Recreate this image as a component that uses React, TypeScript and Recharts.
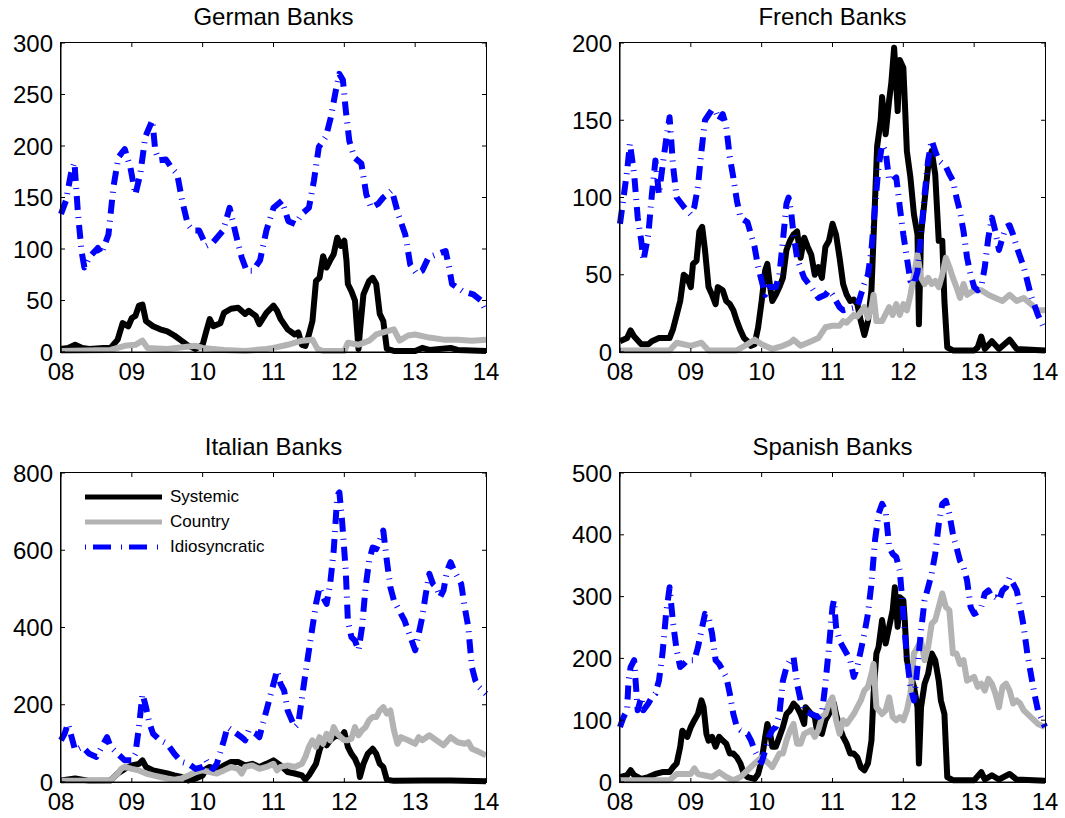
import { LineChart, Line, XAxis, YAxis, ReferenceLine } from "recharts";

type Pt = [number, number];

// shared x axis: years 2008-2014, labelled by two digits
const yearTicks = [8, 9, 10, 11, 12, 13, 14];
const yearLabels = ["08", "09", "10", "11", "12", "13", "14"];

const germanTicks = [0, 50, 100, 150, 200, 250, 300];
const frenchTicks = [0, 50, 100, 150, 200];
const italianTicks = [0, 200, 400, 600, 800];
const spanishTicks = [0, 100, 200, 300, 400, 500];

const seriesNames = ["Systemic", "Country", "Idiosyncratic"];

// German banks
const germanSystemic: Pt[] = [
  [8.0, 3], [8.1, 4], [8.2, 7], [8.3, 4], [8.4, 3], [8.6, 4], [8.7, 4], [8.8, 12], [8.87, 28], [8.95, 25],
  [9.0, 33], [9.05, 35], [9.1, 45], [9.15, 46], [9.2, 30], [9.3, 25], [9.4, 22], [9.5, 20], [9.6, 16], [9.7, 11],
  [9.8, 6], [9.9, 3], [10.0, 7], [10.05, 20], [10.1, 32], [10.15, 25], [10.25, 28], [10.3, 38], [10.4, 42], [10.5, 43],
  [10.6, 37], [10.65, 40], [10.75, 35], [10.8, 27], [10.9, 38], [11.0, 45], [11.05, 40], [11.1, 32], [11.2, 22],
  [11.3, 17], [11.35, 19], [11.4, 7], [11.45, 6], [11.5, 17], [11.55, 30], [11.6, 69], [11.65, 72], [11.7, 93],
  [11.75, 82], [11.8, 89], [11.85, 95], [11.9, 111], [11.95, 103], [12.0, 108], [12.03, 89], [12.05, 66], [12.1, 59],
  [12.15, 50], [12.2, 3], [12.22, 20], [12.27, 56], [12.35, 69], [12.4, 72], [12.45, 66], [12.5, 37], [12.55, 30],
  [12.6, 3], [12.7, 1], [13.0, 1], [13.1, 4], [13.2, 2], [13.5, 4], [13.6, 2], [14.0, 1],
];
const germanCountry: Pt[] = [
  [8.0, 1], [8.7, 2], [8.9, 6], [9.05, 7], [9.15, 11], [9.22, 4], [9.5, 3], [9.9, 6], [10.0, 4], [10.3, 2],
  [10.6, 1], [10.9, 3], [11.0, 4], [11.2, 7], [11.4, 11], [11.55, 12], [11.62, 3], [11.7, 1], [12.0, 1], [12.05, 9],
  [12.2, 7], [12.35, 11], [12.45, 17], [12.6, 20], [12.7, 22], [12.78, 11], [12.9, 16], [13.0, 17], [13.2, 14],
  [13.4, 12], [13.6, 12], [13.8, 11], [14.0, 12],
];
const germanIdio: Pt[] = [
  [8.0, 134], [8.07, 147], [8.14, 173], [8.19, 184], [8.24, 134], [8.29, 98], [8.33, 82], [8.4, 92], [8.52, 101],
  [8.57, 95], [8.67, 114], [8.74, 160], [8.81, 189], [8.9, 197], [8.98, 179], [9.05, 153], [9.12, 173], [9.19, 209],
  [9.29, 225], [9.33, 196], [9.38, 186], [9.48, 187], [9.57, 178], [9.64, 173], [9.71, 147], [9.79, 124], [9.86, 118],
  [9.95, 118], [10.05, 103], [10.14, 106], [10.29, 118], [10.38, 140], [10.48, 111], [10.55, 92], [10.62, 79],
  [10.71, 79], [10.81, 89], [10.9, 118], [11.0, 140], [11.12, 147], [11.21, 127], [11.31, 124], [11.4, 134],
  [11.5, 140], [11.57, 166], [11.64, 199], [11.74, 209], [11.81, 228], [11.88, 254], [11.93, 270], [11.98, 264],
  [12.02, 235], [12.07, 205], [12.14, 189], [12.24, 183], [12.31, 153], [12.38, 140], [12.48, 144], [12.55, 150],
  [12.67, 157], [12.76, 134], [12.86, 114], [12.93, 85], [13.02, 76], [13.1, 79], [13.19, 92], [13.31, 95],
  [13.43, 98], [13.48, 82], [13.52, 66], [13.67, 59], [13.82, 56], [13.93, 50], [14.0, 40],
];

// French banks
const frenchSystemic: Pt[] = [
  [8.0, 7], [8.1, 9], [8.15, 14], [8.2, 10], [8.3, 5], [8.4, 5], [8.45, 7], [8.55, 9], [8.7, 9], [8.75, 15],
  [8.8, 24], [8.85, 33], [8.9, 50], [8.95, 48], [9.0, 42], [9.03, 57], [9.08, 59], [9.12, 78], [9.16, 81], [9.2, 66],
  [9.25, 42], [9.3, 37], [9.35, 31], [9.38, 42], [9.45, 40], [9.5, 33], [9.55, 31], [9.6, 27], [9.65, 20], [9.7, 14],
  [9.75, 9], [9.8, 7], [9.85, 4], [9.9, 5], [9.95, 16], [10.0, 33], [10.05, 53], [10.08, 57], [10.12, 42], [10.15, 33],
  [10.2, 37], [10.25, 42], [10.3, 48], [10.35, 66], [10.4, 72], [10.45, 76], [10.5, 78], [10.55, 61], [10.6, 74],
  [10.65, 68], [10.7, 63], [10.75, 50], [10.8, 55], [10.85, 48], [10.9, 68], [10.95, 72], [11.0, 83], [11.05, 76],
  [11.1, 61], [11.15, 44], [11.2, 37], [11.25, 33], [11.3, 34], [11.35, 31], [11.4, 20], [11.45, 11], [11.5, 20],
  [11.55, 40], [11.6, 98], [11.63, 133], [11.68, 150], [11.7, 165], [11.75, 141], [11.8, 163], [11.83, 174],
  [11.87, 197], [11.9, 174], [11.92, 156], [11.95, 189], [12.0, 184], [12.02, 163], [12.05, 130], [12.1, 113],
  [12.15, 89], [12.2, 76], [12.22, 18], [12.25, 76], [12.3, 98], [12.35, 120], [12.4, 130], [12.45, 115], [12.5, 72],
  [12.55, 72], [12.58, 33], [12.62, 3], [12.7, 1], [13.0, 1], [13.05, 3], [13.1, 10], [13.15, 2], [13.25, 7],
  [13.35, 2], [13.5, 8], [13.6, 2], [14.0, 1],
];
const frenchCountry: Pt[] = [
  [8.0, 1], [8.7, 1], [8.8, 6], [9.0, 4], [9.15, 6], [9.25, 1], [9.65, 1], [9.8, 5], [9.9, 8], [10.0, 5],
  [10.15, 2], [10.3, 4], [10.4, 6], [10.45, 8], [10.55, 4], [10.7, 7], [10.8, 9], [10.9, 16], [11.0, 17], [11.1, 17],
  [11.15, 20], [11.2, 19], [11.3, 24], [11.35, 23], [11.45, 29], [11.5, 22], [11.55, 29], [11.58, 37], [11.62, 20],
  [11.7, 20], [11.8, 29], [11.85, 24], [11.9, 31], [11.95, 24], [12.0, 31], [12.05, 27], [12.1, 37], [12.15, 50],
  [12.2, 63], [12.25, 48], [12.3, 44], [12.35, 48], [12.4, 44], [12.45, 46], [12.5, 42], [12.55, 50], [12.6, 61],
  [12.65, 55], [12.7, 48], [12.75, 42], [12.8, 35], [12.85, 44], [12.9, 37], [13.0, 40], [13.1, 40], [13.2, 37],
  [13.3, 35], [13.4, 33], [13.5, 37], [13.6, 33], [13.7, 35], [13.8, 31], [13.9, 27], [14.0, 27],
];
const frenchIdio: Pt[] = [
  [8.0, 83], [8.05, 100], [8.1, 117], [8.14, 135], [8.2, 115], [8.25, 87], [8.3, 72], [8.33, 59], [8.4, 76],
  [8.45, 102], [8.5, 124], [8.55, 102], [8.6, 120], [8.65, 137], [8.7, 152], [8.75, 120], [8.8, 100], [8.9, 94],
  [9.0, 89], [9.05, 94], [9.1, 107], [9.15, 130], [9.2, 150], [9.3, 157], [9.35, 156], [9.4, 150], [9.45, 154],
  [9.5, 146], [9.55, 126], [9.6, 113], [9.65, 98], [9.7, 87], [9.8, 84], [9.9, 68], [9.95, 55], [10.0, 46],
  [10.05, 37], [10.1, 42], [10.2, 42], [10.25, 50], [10.3, 72], [10.35, 96], [10.38, 100], [10.42, 89], [10.45, 76],
  [10.5, 61], [10.55, 54], [10.6, 48], [10.7, 42], [10.8, 35], [10.9, 37], [10.95, 40], [11.0, 37], [11.1, 29],
  [11.15, 27], [11.25, 28], [11.35, 29], [11.4, 37], [11.45, 44], [11.5, 50], [11.55, 66], [11.6, 94], [11.65, 120],
  [11.7, 134], [11.75, 130], [11.8, 111], [11.85, 111], [11.9, 113], [11.95, 94], [12.0, 76], [12.05, 61], [12.1, 46],
  [12.15, 44], [12.2, 52], [12.25, 76], [12.3, 102], [12.35, 124], [12.4, 137], [12.45, 130], [12.5, 124],
  [12.55, 122], [12.6, 120], [12.65, 115], [12.7, 111], [12.75, 100], [12.8, 91], [12.85, 78], [12.9, 61],
  [12.95, 50], [13.0, 42], [13.05, 40], [13.1, 42], [13.15, 55], [13.2, 74], [13.25, 87], [13.3, 78], [13.35, 66],
  [13.4, 74], [13.45, 81], [13.5, 82], [13.55, 76], [13.6, 68], [13.7, 55], [13.8, 37], [13.9, 24], [14.0, 14],
];

// Italian banks
const italianSystemic: Pt[] = [
  [8.0, 4], [8.2, 9], [8.4, 3], [8.7, 4], [8.8, 22], [8.9, 34], [9.0, 43], [9.1, 47], [9.15, 56], [9.2, 39],
  [9.3, 30], [9.4, 26], [9.5, 22], [9.6, 17], [9.7, 13], [9.8, 4], [9.9, 9], [10.0, 17], [10.05, 34], [10.1, 39],
  [10.2, 30], [10.3, 43], [10.4, 52], [10.5, 52], [10.6, 43], [10.7, 47], [10.8, 39], [10.9, 47], [11.0, 56],
  [11.1, 43], [11.2, 26], [11.3, 22], [11.4, 17], [11.45, 6], [11.5, 17], [11.6, 47], [11.65, 82], [11.7, 108],
  [11.75, 95], [11.8, 108], [11.85, 116], [11.9, 121], [11.95, 116], [12.0, 129], [12.05, 91], [12.1, 73],
  [12.15, 60], [12.2, 39], [12.22, 13], [12.27, 47], [12.33, 73], [12.4, 86], [12.45, 73], [12.5, 47], [12.55, 39],
  [12.6, 6], [12.7, 3], [13.1, 4], [13.5, 4], [14.0, 2],
];
const italianCountry: Pt[] = [
  [8.0, 3], [8.7, 4], [8.8, 22], [8.85, 34], [8.9, 39], [9.0, 34], [9.1, 30], [9.2, 22], [9.3, 17], [9.4, 13],
  [9.5, 9], [9.6, 6], [9.7, 9], [9.8, 17], [9.9, 26], [10.0, 30], [10.1, 26], [10.2, 22], [10.3, 30], [10.4, 39],
  [10.5, 34], [10.55, 22], [10.6, 39], [10.7, 43], [10.8, 34], [10.9, 39], [11.0, 47], [11.05, 30], [11.1, 39],
  [11.2, 43], [11.3, 39], [11.4, 47], [11.45, 65], [11.5, 91], [11.55, 108], [11.6, 91], [11.65, 116], [11.7, 99],
  [11.75, 125], [11.8, 108], [11.85, 142], [11.9, 125], [11.95, 116], [12.0, 108], [12.05, 108], [12.1, 112],
  [12.15, 142], [12.2, 121], [12.25, 134], [12.3, 142], [12.35, 160], [12.4, 168], [12.45, 168], [12.5, 185],
  [12.55, 194], [12.6, 177], [12.65, 185], [12.7, 134], [12.75, 99], [12.8, 116], [12.9, 108], [13.0, 99],
  [13.05, 116], [13.1, 108], [13.2, 121], [13.3, 108], [13.4, 95], [13.5, 116], [13.6, 103], [13.7, 99],
  [13.75, 103], [13.8, 86], [13.9, 78], [14.0, 69],
];
const italianIdio: Pt[] = [
  [8.0, 108], [8.05, 125], [8.1, 151], [8.15, 116], [8.2, 82], [8.3, 91], [8.4, 73], [8.5, 65], [8.55, 82],
  [8.65, 116], [8.7, 91], [8.8, 73], [8.9, 56], [9.0, 56], [9.05, 73], [9.1, 142], [9.15, 228], [9.2, 194],
  [9.25, 151], [9.3, 125], [9.4, 108], [9.5, 99], [9.6, 73], [9.7, 52], [9.8, 47], [9.9, 34], [10.0, 39],
  [10.05, 56], [10.1, 39], [10.15, 34], [10.2, 47], [10.3, 108], [10.35, 142], [10.45, 129], [10.55, 116],
  [10.6, 108], [10.65, 134], [10.75, 125], [10.8, 116], [10.9, 185], [11.0, 254], [11.05, 289], [11.1, 254],
  [11.15, 237], [11.2, 185], [11.3, 142], [11.35, 151], [11.45, 280], [11.5, 341], [11.55, 401], [11.6, 461],
  [11.65, 504], [11.7, 478], [11.75, 461], [11.8, 513], [11.85, 599], [11.9, 741], [11.93, 750], [11.97, 672],
  [12.02, 547], [12.05, 418], [12.1, 375], [12.15, 366], [12.2, 341], [12.25, 401], [12.3, 504], [12.35, 573],
  [12.4, 607], [12.45, 603], [12.5, 625], [12.55, 651], [12.6, 573], [12.65, 504], [12.7, 470], [12.8, 435],
  [12.85, 418], [12.9, 392], [13.0, 341], [13.05, 384], [13.1, 427], [13.15, 487], [13.2, 539], [13.25, 513],
  [13.3, 504], [13.35, 478], [13.4, 496], [13.45, 547], [13.5, 569], [13.55, 547], [13.6, 530], [13.65, 513],
  [13.7, 452], [13.75, 401], [13.8, 298], [13.85, 263], [13.9, 246], [14.0, 228],
];

// Spanish banks
const spanishSystemic: Pt[] = [
  [8.0, 8], [8.1, 11], [8.15, 19], [8.2, 11], [8.3, 5], [8.4, 8], [8.5, 13], [8.6, 16], [8.7, 16], [8.75, 24],
  [8.8, 30], [8.85, 57], [8.88, 83], [8.95, 73], [9.0, 89], [9.05, 100], [9.1, 110], [9.15, 132], [9.18, 121],
  [9.22, 78], [9.25, 67], [9.3, 73], [9.35, 57], [9.4, 73], [9.45, 67], [9.5, 62], [9.55, 46], [9.6, 46], [9.65, 40],
  [9.7, 30], [9.75, 13], [9.8, 8], [9.9, 5], [9.95, 13], [10.0, 35], [10.05, 73], [10.08, 94], [10.12, 78],
  [10.15, 57], [10.2, 57], [10.25, 73], [10.3, 89], [10.35, 110], [10.4, 116], [10.45, 127], [10.5, 121],
  [10.55, 110], [10.6, 94], [10.62, 121], [10.7, 110], [10.75, 105], [10.78, 83], [10.85, 78], [10.9, 100],
  [10.95, 110], [11.0, 132], [11.02, 127], [11.05, 110], [11.1, 89], [11.15, 73], [11.2, 62], [11.25, 46],
  [11.3, 46], [11.35, 40], [11.4, 24], [11.45, 19], [11.5, 30], [11.55, 67], [11.58, 143], [11.62, 208],
  [11.65, 218], [11.7, 262], [11.75, 224], [11.8, 251], [11.85, 278], [11.88, 315], [11.92, 251], [11.95, 299],
  [12.0, 294], [12.02, 262], [12.05, 197], [12.1, 175], [12.15, 154], [12.2, 121], [12.22, 30], [12.25, 121],
  [12.3, 159], [12.35, 175], [12.4, 208], [12.45, 197], [12.5, 164], [12.53, 132], [12.58, 110], [12.62, 8],
  [12.7, 3], [13.0, 3], [13.1, 16], [13.15, 4], [13.25, 11], [13.35, 4], [13.5, 13], [13.6, 4], [14.0, 2],
];
const spanishCountry: Pt[] = [
  [8.0, 3], [8.7, 3], [8.8, 13], [9.0, 13], [9.05, 22], [9.1, 13], [9.3, 8], [9.4, 16], [9.5, 8], [9.6, 3],
  [9.7, 8], [9.8, 19], [9.9, 30], [10.0, 40], [10.1, 30], [10.15, 24], [10.25, 46], [10.3, 46], [10.35, 67],
  [10.4, 83], [10.45, 94], [10.5, 62], [10.55, 62], [10.6, 78], [10.7, 84], [10.75, 73], [10.8, 84], [10.85, 105],
  [10.9, 110], [10.95, 127], [11.0, 137], [11.05, 100], [11.1, 78], [11.15, 100], [11.2, 94], [11.3, 110],
  [11.35, 121], [11.4, 132], [11.45, 148], [11.5, 154], [11.55, 175], [11.58, 191], [11.62, 121], [11.7, 110],
  [11.75, 116], [11.8, 137], [11.85, 105], [11.9, 100], [11.95, 105], [12.0, 100], [12.05, 116], [12.1, 143],
  [12.15, 208], [12.2, 218], [12.25, 229], [12.3, 197], [12.35, 218], [12.4, 256], [12.45, 262], [12.5, 283],
  [12.55, 305], [12.6, 283], [12.65, 278], [12.7, 208], [12.75, 208], [12.8, 191], [12.85, 197], [12.9, 164],
  [13.0, 170], [13.05, 154], [13.1, 159], [13.15, 148], [13.2, 167], [13.25, 159], [13.3, 143], [13.35, 121],
  [13.4, 154], [13.45, 159], [13.5, 148], [13.55, 127], [13.6, 132], [13.65, 127], [13.7, 116], [13.8, 105],
  [13.9, 94], [14.0, 89],
];
const spanishIdio: Pt[] = [
  [8.0, 89], [8.05, 105], [8.1, 116], [8.12, 164], [8.15, 186], [8.2, 197], [8.22, 164], [8.25, 116], [8.3, 137],
  [8.33, 116], [8.4, 127], [8.45, 137], [8.5, 143], [8.55, 164], [8.6, 208], [8.65, 272], [8.7, 315], [8.75, 256],
  [8.8, 213], [8.85, 186], [8.9, 191], [8.95, 197], [9.0, 197], [9.05, 197], [9.1, 218], [9.15, 245], [9.2, 272],
  [9.25, 267], [9.3, 240], [9.35, 197], [9.4, 191], [9.5, 170], [9.55, 143], [9.6, 110], [9.65, 89], [9.7, 84],
  [9.8, 78], [9.85, 67], [9.9, 51], [9.95, 40], [10.0, 32], [10.05, 51], [10.1, 73], [10.15, 84], [10.2, 89],
  [10.25, 110], [10.3, 164], [10.35, 186], [10.4, 197], [10.45, 202], [10.5, 159], [10.55, 132], [10.6, 116],
  [10.7, 110], [10.8, 105], [10.85, 110], [10.9, 159], [10.95, 218], [11.0, 283], [11.02, 294], [11.05, 251],
  [11.1, 229], [11.15, 218], [11.2, 208], [11.25, 197], [11.3, 170], [11.35, 186], [11.4, 213], [11.45, 240],
  [11.5, 272], [11.55, 321], [11.6, 391], [11.65, 434], [11.7, 450], [11.75, 439], [11.8, 380], [11.85, 369],
  [11.9, 364], [11.95, 342], [12.0, 272], [12.05, 202], [12.1, 154], [12.15, 132], [12.2, 186], [12.25, 245],
  [12.3, 294], [12.35, 315], [12.4, 337], [12.45, 369], [12.5, 417], [12.55, 450], [12.6, 455], [12.65, 434],
  [12.7, 401], [12.75, 380], [12.8, 358], [12.85, 348], [12.9, 326], [12.95, 283], [13.0, 272], [13.05, 275],
  [13.1, 283], [13.15, 305], [13.2, 310], [13.25, 299], [13.3, 299], [13.35, 294], [13.4, 310], [13.45, 315],
  [13.5, 331], [13.55, 321], [13.6, 310], [13.65, 283], [13.7, 251], [13.75, 208], [13.8, 175], [13.85, 143],
  [13.9, 116], [14.0, 89],
];

const FONT = '"Liberation Sans", Arial, Helvetica, sans-serif';
const SYS_COLOR = "#000000";
const CTY_COLOR = "#b3b3b3";
const IDIO_COLOR = "#0000ff";
const IDIO_DASH = "14 7 1 7";
const LINE_W = 6;

// chart box: plot area starts 61px right and 43px below the box corner, 425 x 309
const CHART_W = 530;
const CHART_H = 400;
const PLOT_L = 61;
const PLOT_T = 43;
const PLOT_W = 425;
const PLOT_H = 309;
const TICK_LEN = 4; // inward tick length in px
const X_MIN = 8;
const X_MAX = 14;

const toRows = (pts: Pt[]) => pts.map(([t, v]) => ({ t, v }));
const yearLabel = (v: number) => yearLabels[yearTicks.indexOf(v)] ?? "";

// inward tick marks along the top and right edges, as data-space segments
function mirrorTicks(yTicks: number[], yMax: number) {
  const dy = (yMax * TICK_LEN) / PLOT_H;
  const dx = ((X_MAX - X_MIN) * TICK_LEN) / PLOT_W;
  return [
    ...yearTicks.map((t) => [{ x: t, y: yMax }, { x: t, y: yMax - dy }]),
    ...yTicks.map((v) => [{ x: X_MAX, y: v }, { x: X_MAX - dx, y: v }]),
  ];
}

interface PanelProps {
  title: string;
  left: number;
  top: number;
  yTicks: number[];
  systemic: Pt[];
  country: Pt[];
  idio: Pt[];
  showLegend?: boolean;
}

function Panel({ title, left, top, yTicks, systemic, country, idio, showLegend }: PanelProps) {
  const yMax = yTicks[yTicks.length - 1];
  const tickStyle = { fill: "#000", fontSize: 24, fontFamily: FONT };
  return (
    <div style={{ position: "absolute", left, top, width: CHART_W, height: CHART_H }}>
      <div
        style={{
          position: "absolute",
          left: PLOT_L,
          top: 5,
          width: PLOT_W,
          textAlign: "center",
          fontFamily: FONT,
          fontSize: 24,
          lineHeight: "24px",
          color: "#000",
          whiteSpace: "nowrap",
        }}
      >
        {title}
      </div>
      <LineChart width={CHART_W} height={CHART_H} margin={{ top: PLOT_T, right: CHART_W - PLOT_L - PLOT_W, bottom: 8, left: 0 }}>
        <XAxis
          dataKey="t"
          type="number"
          domain={[X_MIN, X_MAX]}
          ticks={yearTicks}
          interval={0}
          tickFormatter={yearLabel}
          height={CHART_H - 8 - PLOT_T - PLOT_H}
          stroke="#000"
          tickLine={{ stroke: "#000" }}
          tickSize={-TICK_LEN}
          tickMargin={15}
          tick={tickStyle}
        />
        <YAxis
          type="number"
          domain={[0, yMax]}
          ticks={yTicks}
          interval={0}
          width={PLOT_L}
          stroke="#000"
          tickLine={{ stroke: "#000" }}
          tickSize={-TICK_LEN}
          tickMargin={12}
          tick={tickStyle}
        />
        <Line
          data={toRows(systemic)}
          dataKey="v"
          name={seriesNames[0]}
          stroke={SYS_COLOR}
          strokeWidth={LINE_W}
          strokeLinejoin="round"
          dot={false}
          activeDot={false}
          isAnimationActive={false}
        />
        <Line
          data={toRows(country)}
          dataKey="v"
          name={seriesNames[1]}
          stroke={CTY_COLOR}
          strokeWidth={LINE_W}
          strokeLinejoin="round"
          dot={false}
          activeDot={false}
          isAnimationActive={false}
        />
        <Line
          data={toRows(idio)}
          dataKey="v"
          name={seriesNames[2]}
          stroke={IDIO_COLOR}
          strokeWidth={LINE_W}
          strokeDasharray={IDIO_DASH}
          strokeLinecap="butt"
          strokeLinejoin="round"
          dot={false}
          activeDot={false}
          isAnimationActive={false}
        />
        {mirrorTicks(yTicks, yMax).map((seg, i) => (
          <ReferenceLine key={i} segment={seg} stroke="#000" strokeWidth={1} ifOverflow="visible" />
        ))}
      </LineChart>
      {/* axes box */}
      <div
        style={{
          position: "absolute",
          left: PLOT_L - 1,
          top: PLOT_T - 1,
          width: PLOT_W + 2,
          height: PLOT_H + 2,
          border: "1.5px solid #000",
          boxSizing: "border-box",
          pointerEvents: "none",
        }}
      />
      {showLegend && <SeriesLegend />}
    </div>
  );
}

// legend sits in the upper-left corner of the plot area
function SeriesLegend() {
  const rows = [
    { name: seriesNames[0], color: SYS_COLOR, dash: undefined },
    { name: seriesNames[1], color: CTY_COLOR, dash: undefined },
    { name: seriesNames[2], color: IDIO_COLOR, dash: "1 7 18 10" },
  ];
  return (
    <div style={{ position: "absolute", left: 85, top: 57 }}>
      {rows.map((r, i) => (
        <div key={r.name} style={{ position: "absolute", left: 0, top: i * 25, height: 20, width: 200 }}>
          <svg width={77} height={10} style={{ position: "absolute", left: 0, top: 5 }}>
            <line x1={0} y1={5} x2={77} y2={5} stroke={r.color} strokeWidth={5} strokeDasharray={r.dash} />
          </svg>
          <span
            style={{
              position: "absolute",
              left: 85,
              top: 0,
              lineHeight: "20px",
              fontFamily: FONT,
              fontSize: 17,
              color: "#000",
              whiteSpace: "nowrap",
            }}
          >
            {r.name}
          </span>
        </div>
      ))}
    </div>
  );
}

export default function App() {
  return (
    <div
      style={{
        position: "absolute",
        left: 0,
        top: 0,
        width: 1065,
        height: 818,
        background: "#fff",
        overflow: "hidden",
      }}
    >
      <Panel title="German Banks" left={0} top={0} yTicks={germanTicks}
        systemic={germanSystemic} country={germanCountry} idio={germanIdio} />
      <Panel title="French Banks" left={559} top={0} yTicks={frenchTicks}
        systemic={frenchSystemic} country={frenchCountry} idio={frenchIdio} />
      <Panel title="Italian Banks" left={0} top={430} yTicks={italianTicks}
        systemic={italianSystemic} country={italianCountry} idio={italianIdio} showLegend />
      <Panel title="Spanish Banks" left={559} top={430} yTicks={spanishTicks}
        systemic={spanishSystemic} country={spanishCountry} idio={spanishIdio} />
    </div>
  );
}
